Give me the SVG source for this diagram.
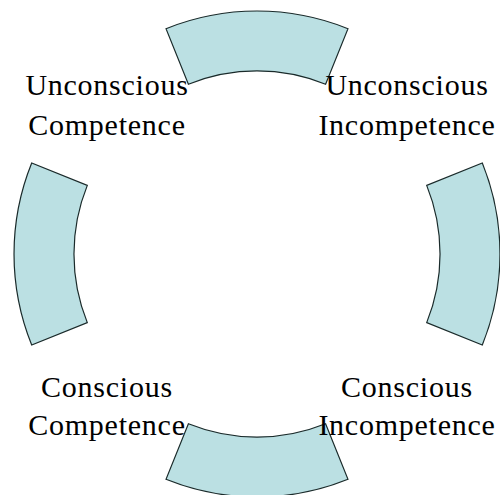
<svg xmlns="http://www.w3.org/2000/svg" width="500" height="495" viewBox="0 0 500 495">
<defs>
<style>
.seg{fill:#BBE0E3;stroke:#1a2a2a;stroke-width:1.2;stroke-linejoin:miter}
.lbl{font-family:"Liberation Serif","Times New Roman",serif;font-size:30px;letter-spacing:0.75px;fill:#000;text-anchor:middle}
</style>
<path id="sector" d="M166,28.7 A243,243 0 0 1 348,28.7 L325.6,84.3 A183,183 0 0 0 188.4,84.3 Z"/>
</defs>
<rect width="500" height="495" fill="#ffffff"/>
<g id="connectors"/>
<g id="seg-top"><use href="#sector" class="seg"/></g>
<g id="seg-right"><use href="#sector" class="seg" transform="rotate(90 257 254)"/></g>
<g id="seg-bottom"><use href="#sector" class="seg" transform="rotate(180 257 254)"/></g>
<g id="seg-left"><use href="#sector" class="seg" transform="rotate(270 257 254)"/></g>
<g id="label-uc">
<text class="lbl" x="107" y="95">Unconscious</text>
<text class="lbl" x="107" y="135">Competence</text>
</g>
<g id="label-ui">
<text class="lbl" x="407" y="95">Unconscious</text>
<text class="lbl" x="407" y="135">Incompetence</text>
</g>
<g id="label-cc">
<text class="lbl" x="107" y="397">Conscious</text>
<text class="lbl" x="107" y="435">Competence</text>
</g>
<g id="label-ci">
<text class="lbl" x="407" y="397">Conscious</text>
<text class="lbl" x="407" y="435">Incompetence</text>
</g>
</svg>
